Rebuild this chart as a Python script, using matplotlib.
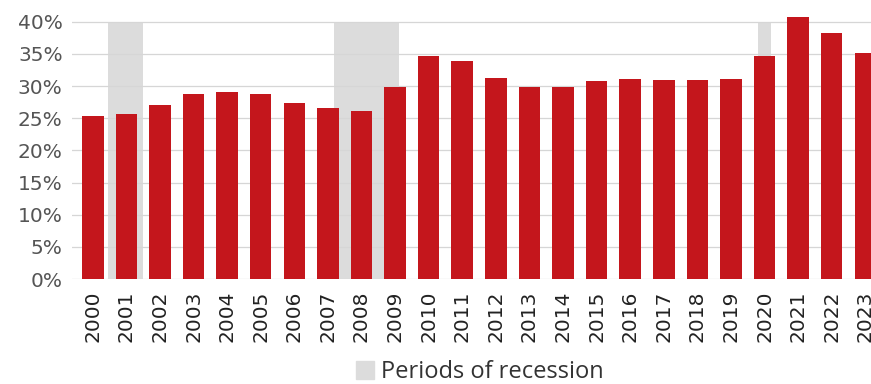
import matplotlib
matplotlib.use("Agg")
import matplotlib.pyplot as plt
from matplotlib.patches import Patch

years = [str(y) for y in range(2000, 2024)]
share = [25.4, 25.6, 27.1, 28.7, 29.1, 28.8, 27.3, 26.6, 26.2, 29.8, 34.7, 33.9,
         31.2, 29.8, 29.8, 30.8, 31.1, 30.9, 30.9, 31.1, 34.6, 40.7, 38.2, 35.2]
# recession spans in bar-index units
recessions = [(0.45, 1.5), (7.17, 9.12), (19.8, 20.2)]
yticks = [0, 5, 10, 15, 20, 25, 30, 35, 40]

plt.rcParams['font.family'] = ['Open Sans', 'DejaVu Sans']

fig = plt.figure(figsize=(8.71, 3.84), dpi=100)
ax = fig.add_axes([0.083, 0.273, 0.917, 0.704])

for a, b in recessions:
    ax.fill_between([a, b], 0, 40, color='#dcdcdc', lw=0, zorder=0)

x = range(len(years))
ax.bar(x, share, width=0.64, color='#c4161c', zorder=2)

ax.set_xlim(-0.61, 23.17)
ax.set_ylim(0, 42)
ax.set_yticks(yticks)
ax.set_yticklabels([f"{t}%" for t in yticks], fontsize=14.5, color='#555555',
                   family='DejaVu Sans')
ax.set_xticks(list(x))
ax.set_xticklabels(years, rotation=90, fontsize=14.5, color='#222222',
                   family='DejaVu Sans')
ax.tick_params(axis='x', length=0, pad=8)
ax.tick_params(axis='y', length=0, pad=7)
for s in ax.spines.values():
    s.set_visible(False)
ax.yaxis.grid(True, color='#d6d6d6', lw=0.9, zorder=1)
ax.set_axisbelow(True)

fig.legend(handles=[Patch(color='#dcdcdc', label='Periods of recession')],
           loc='center', bbox_to_anchor=(0.551, 0.031), frameon=False,
           fontsize=17, handlelength=0.75, handleheight=0.75, handletextpad=0.3,
           labelcolor='#333333', borderpad=0, borderaxespad=0)

fig.savefig("out.png", dpi=100)
